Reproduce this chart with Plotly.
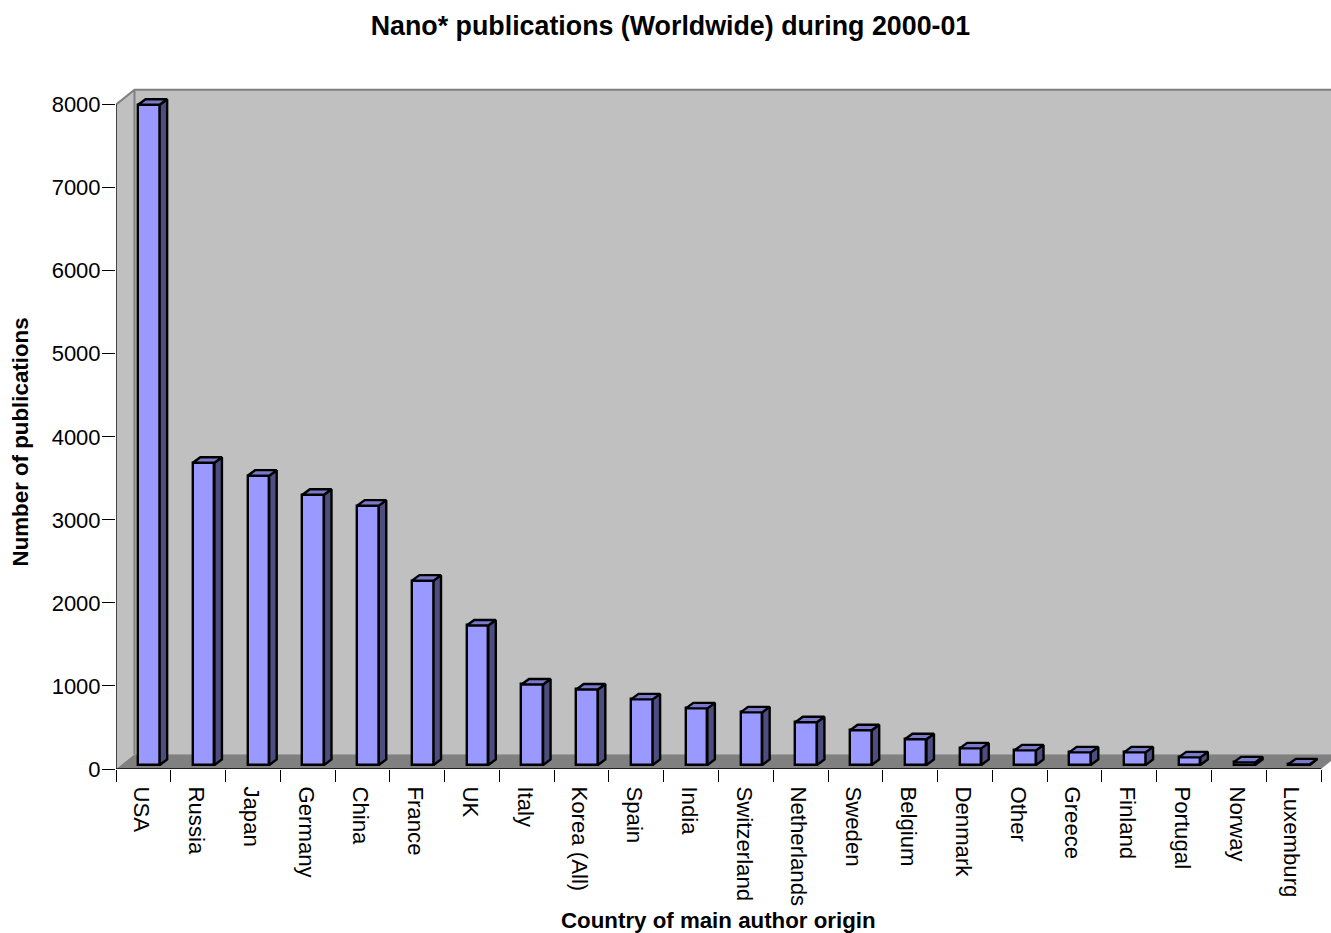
import plotly.graph_objects as go

countries = ["USA","Russia","Japan","Germany","China","France","UK","Italy","Korea (All)","Spain","India",
             "Switzerland","Netherlands","Sweden","Belgium","Denmark","Other","Greece","Finland","Portugal","Norway","Luxemburg"]
publications = [7950,3640,3484,3255,3123,2220,1680,970,910,790,682,634,514,418,310,200,176,152,152,92,32,8]
y_ticks = [0,1000,2000,3000,4000,5000,6000,7000,8000]

W, H = 1331, 933
L, R0, BOT, TOP8000 = 115.5, 1321.0, 769.5, 104.3
n = len(countries)
ux = (R0 - L) / n
uy = (BOT - TOP8000) / 8000
xmax = (W - L) / ux
ytop = 8200
plot_top = BOT - ytop * uy

wall_dx, wall_dy = 18.5 / ux, 14.8 / uy
bar_dx, bar_dy = 7.5 / ux, 5.5 / uy
base = 4.0 / uy
bw = 21.6 / ux
shift = 0.1

fig = go.Figure()

def poly(xs, ys, fill, line="rgba(0,0,0,0)", lw=0):
    fig.add_trace(go.Scatter(x=xs, y=ys, mode="lines", fill="toself", fillcolor=fill,
                             line=dict(color=line, width=lw), hoverinfo="skip", showlegend=False))

def path(pts):
    return "M " + " L ".join(f"{x},{y}" for x, y in pts) + " Z"

# walls and floor
wall_shapes = [
    dict(type="path", path=path([(wall_dx, wall_dy), (xmax + 1, wall_dy), (xmax + 1, 8000 + wall_dy), (wall_dx, 8000 + wall_dy)]),
         fillcolor="#c0c0c0", line=dict(width=0), layer="below"),
    dict(type="path", path=path([(0, 0), (wall_dx, wall_dy), (wall_dx, 8000 + wall_dy), (0, 8000)]),
         fillcolor="#c0c0c0", line=dict(width=0), layer="below"),
    dict(type="path", path=path([(0, 0), (wall_dx, wall_dy), (n + wall_dx, wall_dy), (n, 0)]),
         fillcolor="#808080", line=dict(width=0), layer="below"),
    dict(type="path", path=f"M 0,8000 L {wall_dx},{8000 + wall_dy} L {xmax + 1},{8000 + wall_dy}",
         line=dict(color="#808080", width=2), layer="below"),
    dict(type="line", x0=wall_dx, x1=wall_dx, y0=wall_dy, y1=8000 + wall_dy,
         line=dict(color="#808080", width=2), layer="below"),
]

# front faces
fig.add_trace(go.Bar(x=[i + 0.5 + shift for i in range(n)], y=publications, base=base, width=bw,
                     marker=dict(color="#9999ff", line=dict(color="black", width=2.4)),
                     customdata=countries, hovertemplate="%{customdata}: %{y}<extra></extra>", showlegend=False))

# side and top faces
sx, sy, tx, ty = [], [], [], []
for i, v in enumerate(publications):
    xl = i + 0.5 + shift - bw / 2
    xr = xl + bw
    t = base + v
    sx += [xr, xr + bar_dx, xr + bar_dx, xr, xr, None]
    sy += [base, base + bar_dy, t + bar_dy, t, base, None]
    tx += [xl, xl + bar_dx, xr + bar_dx, xr, xl, None]
    ty += [t, t + bar_dy, t + bar_dy, t, t, None]
poly(sx, sy, "#4d4d80", "black", 2.4)
poly(tx, ty, "#7a7acc", "black", 2.4)

# axis lines
fig.add_trace(go.Scatter(x=[0, 0], y=[-1, 8000], mode="lines", line=dict(color="black", width=1.3),
                         hoverinfo="skip", showlegend=False))
fig.add_trace(go.Scatter(x=[0, n], y=[0, 0], mode="lines", line=dict(color="black", width=1.3),
                         hoverinfo="skip", showlegend=False))

fig.update_layout(
    width=W, height=H, paper_bgcolor="white", plot_bgcolor="white",
    margin=dict(l=L, r=0, t=plot_top, b=H - BOT),
    font=dict(family="Liberation Sans, Arial, sans-serif", color="black"),
    bargap=0, showlegend=False, shapes=wall_shapes,
    title=dict(text="<b>Nano* publications (Worldwide) during 2000-01</b>", x=670.5 / W, xanchor="center",
               y=1 - 26 / H, yanchor="middle", font=dict(size=26.8)),
    xaxis=dict(range=[0, xmax], tickmode="array", tickvals=[i + 0.5 for i in range(n)], ticktext=countries,
               tickangle=90, ticks="outside", ticklen=12, tickcolor="rgba(0,0,0,0)", tickfont=dict(size=22.2),
               ticklabelshift=-2, showgrid=False, zeroline=False, showline=False,
               minor=dict(ticks="outside", ticklen=12, tickwidth=1, tickcolor="black", tick0=0, dtick=1, showgrid=False)),
    yaxis=dict(range=[0, ytop], tickmode="array", tickvals=y_ticks, ticks="outside", ticklen=13, tickwidth=1.3,
               tickcolor="black", tickfont=dict(size=22), ticklabelstandoff=-3, showgrid=False, zeroline=False, showline=False),
    annotations=[
        dict(text="<b>Country of main author origin</b>", xref="paper", yref="paper", x=(718 - L) / (W - L),
             y=-(921 - BOT) / (BOT - plot_top), xanchor="center", yanchor="middle", showarrow=False, font=dict(size=22.3)),
        dict(text="<b>Number of publications</b>", xref="paper", yref="paper", x=-(L - 20) / (W - L),
             y=(BOT - 442) / (BOT - plot_top), xanchor="center", yanchor="middle", textangle=-90, showarrow=False,
             font=dict(size=22.3)),
    ],
)

fig.write_html("out.html", config=dict(displayModeBar=False),
               post_script="document.body.style.margin='0';document.body.style.overflow='hidden';")
